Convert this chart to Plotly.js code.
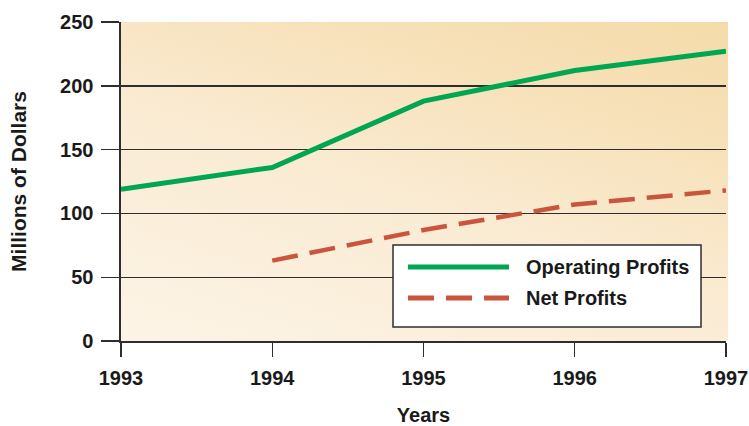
<!DOCTYPE html>
<html>
<head>
<meta charset="utf-8">
<script src="https://cdn.plot.ly/plotly-3.0.1.min.js"></script>
<style>
  html, body { margin: 0; padding: 0; background: #ffffff; }
  #wrap { position: relative; width: 749px; height: 426px; }
  #bg { position: absolute; left: 121px; top: 22px; width: 607px; height: 319px;
        background: linear-gradient(18deg, #FCF4E6 0%, #FAEBD3 45%, #F7E1B9 75%, #F5DBAA 100%); z-index: 0; }
  #chart { position: absolute; left: 0; top: 0; width: 749px; height: 426px; z-index: 1; }
</style>
</head>
<body>
<div id="wrap">
  <div id="bg"></div>
  <div id="chart"></div>
</div>
<script>
const years = [1993, 1994, 1995, 1996, 1997];
const operatingYears = [1993, 1994, 1995, 1996, 1997];
const operatingProfits = [119, 136, 188, 212, 227];
const netYears = [1994, 1995, 1996, 1997];
const netProfits = [63, 87, 107, 118];
const yTicks = [0, 50, 100, 150, 200, 250];
const seriesNames = ["Operating Profits", "Net Profits"];

const FONT = "'Liberation Sans', Arial, sans-serif";
const ink = "#2e2e2e";
const green = "#00A651";
const red = "#C9553E";

const traces = [
  { x: operatingYears, y: operatingProfits, type: "scatter", mode: "lines", name: seriesNames[0],
    line: { color: green, width: 5 }, cliponaxis: false, showlegend: false },
  { x: netYears, y: netProfits, type: "scatter", mode: "lines", name: seriesNames[1],
    line: { color: red, width: 4.5, dash: "26px,12px" }, cliponaxis: false, showlegend: false }
];

const layout = {
  width: 749, height: 426,
  margin: { l: 121, r: 23, t: 22, b: 85 },
  paper_bgcolor: "rgba(0,0,0,0)",
  plot_bgcolor: "rgba(0,0,0,0)",
  font: { family: FONT, size: 20, color: "#1a1a1a", weight: "bold" },
  showlegend: false,
  xaxis: {
    range: [1993, 1997],
    tickvals: years, ticktext: years.map(String),
    ticks: "outside", ticklen: 14, tickwidth: 1.4, tickcolor: ink,
    showline: true, linecolor: ink, linewidth: 1.6,
    showgrid: false, zeroline: false,
    tickfont: { family: FONT, size: 20, color: "#1a1a1a", weight: "bold" },
    ticklabelstandoff: 4,
    title: { text: "Years", font: { family: FONT, size: 20, color: "#1a1a1a", weight: "bold" }, standoff: 23 }
  },
  yaxis: {
    range: [0, 250],
    tickvals: yTicks,
    ticks: "outside", ticklen: 18, tickwidth: 1.4, tickcolor: ink,
    showline: true, linecolor: ink, linewidth: 1.6,
    showgrid: true, gridcolor: ink, gridwidth: 1.4, zeroline: false,
    tickfont: { family: FONT, size: 20, color: "#1a1a1a", weight: "bold" },
    ticklabelstandoff: 4,
    title: { text: "Millions of Dollars", font: { family: FONT, size: 21, color: "#1a1a1a", weight: "bold" }, standoff: 27 }
  },
  shapes: [
    { type: "rect", xref: "paper", yref: "paper", x0: 0.4496, x1: 0.9587, y0: 0.0439, y1: 0.3009,
      fillcolor: "#ffffff", line: { color: ink, width: 1.5 } },
    { type: "line", xref: "paper", yref: "paper", x0: 0.4744, x1: 0.6413, y0: 0.232, y1: 0.232,
      line: { color: green, width: 5 } },
    { type: "line", xref: "paper", yref: "paper", x0: 0.4744, x1: 0.6413, y0: 0.1348, y1: 0.1348,
      line: { color: red, width: 5, dash: "26px,12px" } }
  ],
  annotations: [
    { xref: "paper", yref: "paper", x: 0.6661, y: 0.232, xanchor: "left", yanchor: "middle",
      text: seriesNames[0], showarrow: false, font: { family: FONT, size: 20, color: "#1a1a1a", weight: "bold" } },
    { xref: "paper", yref: "paper", x: 0.6661, y: 0.1348, xanchor: "left", yanchor: "middle",
      text: seriesNames[1], showarrow: false, font: { family: FONT, size: 20, color: "#1a1a1a", weight: "bold" } }
  ]
};

Plotly.newPlot("chart", traces, layout, { displayModeBar: false, staticPlot: true });
</script>
</body>
</html>
